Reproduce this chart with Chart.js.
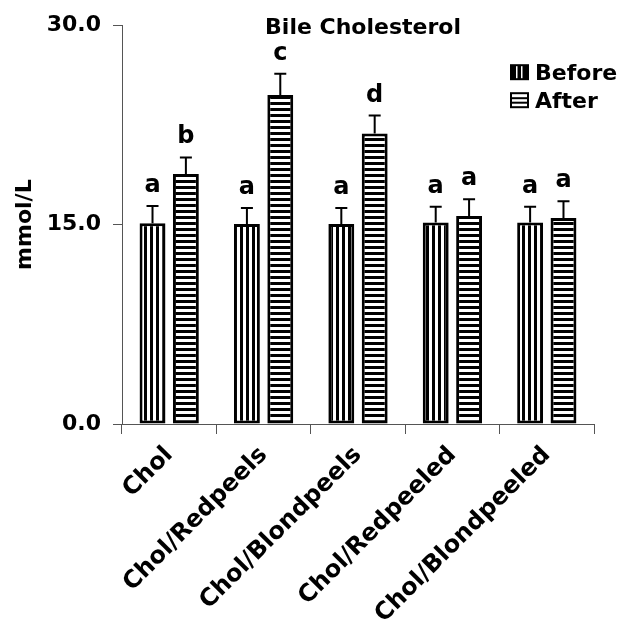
<!DOCTYPE html>
<html>
<head>
<meta charset="utf-8">
<script src="https://cdn.jsdelivr.net/npm/chart.js@4.4.1/dist/chart.umd.min.js"></script>
<style>
  html, body { margin: 0; padding: 0; background: #fff; }
  #wrap { width: 622px; height: 627px; }
</style>
</head>
<body>
<div id="wrap"><canvas id="c" width="622" height="627"></canvas></div>
<script>
// Bile cholesterol before / after each diet (mmol/L)
const categories = ['Chol', 'Chol/Redpeels', 'Chol/Blondpeels', 'Chol/Redpeeled', 'Chol/Blondpeeled'];
const beforeValues = [15.1, 15.05, 15.05, 15.15, 15.15];
const afterValues = [18.8, 24.75, 21.85, 15.65, 15.5];
const beforeErrors = [1.3, 1.2, 1.2, 1.2, 1.2];
const afterErrors = [1.25, 1.6, 1.35, 1.25, 1.25];
const beforeLetters = ['a', 'a', 'a', 'a', 'a'];
const afterLetters = ['b', 'c', 'd', 'a', 'a'];
const yTicks = [0, 15, 30];

const FONT = 'DejaVu Sans';
const canvas = document.getElementById('c');
const ctx = canvas.getContext('2d');

// striped fills: vertical lines for "Before", horizontal lines for "After"
function stripes(vertical) {
  const t = document.createElement('canvas');
  t.width = 6; t.height = 6;
  const g = t.getContext('2d');
  g.fillStyle = '#fff';
  g.fillRect(0, 0, 6, 6);
  g.fillStyle = '#000';
  if (vertical) g.fillRect(0, 0, 3, 6); else g.fillRect(0, 0, 6, 3);
  return ctx.createPattern(t, 'repeat');
}

// upward error bars with significance letters above them
const errorBars = {
  id: 'errorBars',
  afterDatasetsDraw(chart) {
    const c = chart.ctx, y = chart.scales.y;
    c.save();
    chart.data.datasets.forEach((ds, i) => {
      chart.getDatasetMeta(i).data.forEach((bar, j) => {
        const top = y.getPixelForValue(ds.data[j] + ds.errors[j]);
        c.strokeStyle = '#000';
        c.lineWidth = 2;
        c.beginPath();
        c.moveTo(bar.x, bar.y);
        c.lineTo(bar.x, top);
        c.moveTo(bar.x - 6, top);
        c.lineTo(bar.x + 6, top);
        c.stroke();
        c.fillStyle = '#000';
        c.font = 'bold 24px "' + FONT + '"';
        c.textAlign = 'center';
        c.textBaseline = 'alphabetic';
        c.fillText(ds.letters[j], bar.x, top - 14);
      });
    });
    c.restore();
  }
};

// chart heading and the striped key at the top right
const heading = {
  id: 'heading',
  afterDraw(chart) {
    const c = chart.ctx, a = chart.chartArea;
    c.save();
    c.fillStyle = '#000';
    c.font = 'bold 22px "' + FONT + '"';
    c.textAlign = 'center';
    c.textBaseline = 'alphabetic';
    c.fillText('Bile Cholesterol', (a.left + a.right) / 2 + 5, a.top + 9);

    const sx = a.right - 84, sw = 19, sh = 16;
    chart.data.datasets.forEach((ds, i) => {
      const sy = a.top + 39 + i * 28;
      if (i === 0) {
        c.fillStyle = '#000';
        c.fillRect(sx, sy, sw, sh);
        c.fillStyle = '#fff';
        c.fillRect(sx + 6, sy + 2, 1.5, sh - 4);
        c.fillRect(sx + 11, sy + 2, 1.5, sh - 4);
      } else {
        c.fillStyle = '#fff';
        c.fillRect(sx, sy, sw, sh);
        c.strokeStyle = '#000';
        c.lineWidth = 2;
        c.strokeRect(sx + 1, sy + 1, sw - 2, sh - 2);
        c.fillStyle = '#000';
        c.fillRect(sx, sy + 5, sw, 2);
        c.fillRect(sx, sy + 9.5, sw, 2);
      }
      c.fillStyle = '#000';
      c.textAlign = 'left';
      c.fillText(ds.label, sx + 25, sy + 16);
    });
    c.restore();
  }
};

const tickFont = { family: FONT, size: 22, weight: 'bold' };
const catFont = { family: FONT, size: 24, weight: 'bold' };

new Chart(ctx, {
  type: 'bar',
  data: {
    labels: categories,
    datasets: [
      { label: 'Before', data: beforeValues, errors: beforeErrors, letters: beforeLetters,
        backgroundColor: stripes(true), borderColor: '#000', borderWidth: 3, borderSkipped: false },
      { label: 'After', data: afterValues, errors: afterErrors, letters: afterLetters,
        backgroundColor: stripes(false), borderColor: '#000', borderWidth: 3, borderSkipped: false }
    ]
  },
  options: {
    responsive: false,
    animation: false,
    events: [],
    layout: { padding: { top: 23, right: 28, left: 0, bottom: 0 } },
    datasets: { bar: { categoryPercentage: 0.707, barPercentage: 0.776 } },
    plugins: { legend: { display: false }, tooltip: { enabled: false }, title: { display: false } },
    scales: {
      x: {
        grid: { drawOnChartArea: false, drawTicks: true, tickLength: 10, color: '#555', offset: true },
        border: { color: '#555', width: 1 },
        ticks: { font: catFont, color: '#000', minRotation: 45, maxRotation: 45, autoSkip: false, padding: 7 },
        afterFit(s) { s.height = 203; }
      },
      y: {
        min: 0, max: 30,
        afterBuildTicks(s) { s.ticks = yTicks.map(v => ({ value: v })); },
        grid: { drawOnChartArea: false, drawTicks: true, tickLength: 9, color: '#555' },
        border: { color: '#555', width: 1 },
        ticks: { font: tickFont, color: '#000', padding: 12, callback: v => Number(v).toFixed(1) },
        title: { display: true, text: 'mmol/L', font: tickFont, color: '#000', padding: { top: 12, bottom: 0 } },
        afterFit(s) { s.width = 122; }
      }
    }
  },
  plugins: [errorBars, heading]
});
</script>
</body>
</html>
